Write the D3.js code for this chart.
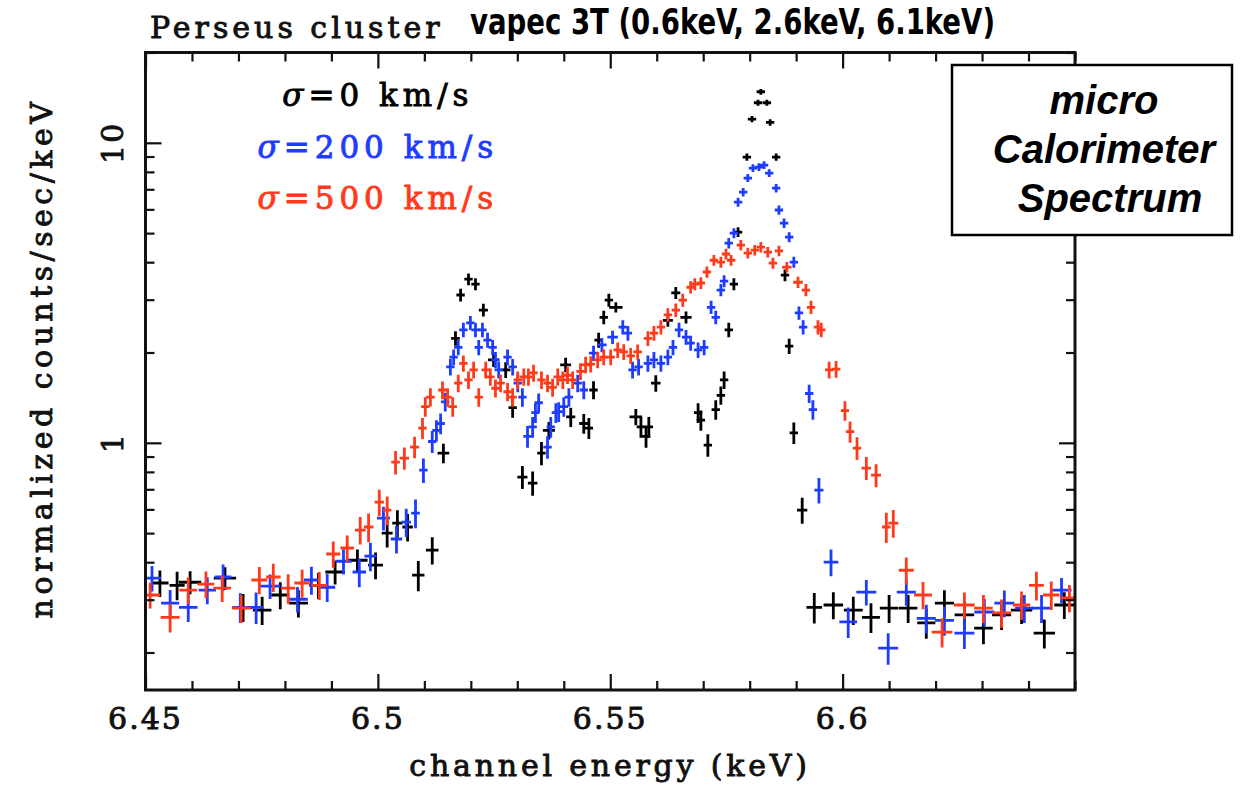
<!DOCTYPE html>
<html>
<head>
<meta charset="utf-8">
<script src="https://cdn.jsdelivr.net/npm/d3@7"></script>
<style>
  body { margin: 0; background: #fff; }
  svg text { font-family: "DejaVu Serif", serif; fill: #111; }
</style>
</head>
<body>
<svg id="chart" width="1258" height="786"></svg>
<script>
// [channel energy (keV), normalized counts/sec/keV]
const sigma0 = [
  [6.4531,0.341],[6.4568,0.335],[6.4596,0.343],[6.4671,0.354],[6.4710,0.283],[6.4751,0.277],
  [6.4790,0.311],[6.4829,0.292],[6.4872,0.335],[6.4908,0.371],[6.4956,0.406],[6.4995,0.391],
  [6.5020,0.500],[6.5042,0.540],[6.5064,0.524],[6.5087,0.362],[6.5117,0.439],[6.5141,0.924],
  [6.5167,2.23],[6.5178,3.11],[6.5195,3.51],[6.5210,3.38],[6.5227,2.77],[6.5249,1.89],
  [6.5275,1.75],[6.5290,1.31],[6.5311,0.769],[6.5333,0.734],[6.5352,0.924],[6.5368,1.10],
  [6.5404,1.82],[6.5415,1.22],[6.5443,1.16],[6.5454,1.12],[6.5464,1.50],[6.5475,2.20],
  [6.5486,2.62],[6.5497,2.99],[6.5512,2.83],[6.5555,1.22],[6.5566,1.13],[6.5577,1.05],
  [6.5583,1.13],[6.5598,1.58],[6.5624,2.56],[6.5641,3.16],[6.5663,2.62],[6.5689,1.26],
  [6.5695,1.19],[6.5710,0.983],[6.5727,1.29],[6.5738,1.44],[6.5745,1.62],[6.5755,2.38],
  [6.5766,3.38],[6.5775,5.04],[6.5794,8.96],[6.5805,12.0],[6.5818,13.6],[6.5824,14.8],
  [6.5837,13.6],[6.5844,11.7],[6.5857,8.96],[6.5876,3.62],[6.5885,2.10],[6.5895,1.08],
  [6.5913,0.597],[6.5939,0.283],[6.5980,0.288],[6.6023,0.277],[6.6061,0.262],[6.6100,0.281],
  [6.6141,0.281],[6.6180,0.251],[6.6219,0.292],[6.6262,0.267],[6.6303,0.241],[6.6342,0.267],
  [6.6385,0.277],[6.6434,0.232],[6.6477,0.288]
];
const sigma200 = [
  [6.4514,0.354],[6.4553,0.292],[6.4592,0.283],[6.4633,0.323],[6.4667,0.357],[6.4704,0.283],
  [6.4738,0.283],[6.4768,0.333],[6.4827,0.301],[6.4857,0.349],[6.4891,0.330],[6.4926,0.403],
  [6.4960,0.371],[6.4984,0.419],[6.5012,0.561],[6.5040,0.478],[6.5061,0.544],[6.5081,0.583],
  [6.5098,0.811],[6.5117,1.01],[6.5126,1.10],[6.5135,1.16],[6.5145,1.37],[6.5156,1.79],
  [6.5163,1.93],[6.5173,2.08],[6.5184,2.38],[6.5199,2.51],[6.5210,2.38],[6.5217,2.08],
  [6.5225,2.38],[6.5236,2.20],[6.5247,2.08],[6.5253,1.89],[6.5260,1.75],[6.5279,1.93],
  [6.5290,1.79],[6.5301,1.58],[6.5311,1.42],[6.5322,1.05],[6.5333,1.13],[6.5339,1.26],
  [6.5346,1.36],[6.5365,0.968],[6.5372,1.13],[6.5383,1.26],[6.5389,1.27],[6.5400,1.32],
  [6.5411,1.42],[6.5430,1.58],[6.5443,1.50],[6.5464,1.99],[6.5482,2.12],[6.5505,2.25],
  [6.5527,2.43],[6.5538,2.32],[6.5548,1.75],[6.5561,1.79],[6.5581,1.84],[6.5594,1.89],
  [6.5609,1.84],[6.5624,1.93],[6.5635,2.08],[6.5648,2.38],[6.5663,2.25],[6.5673,2.15],
  [6.5689,2.04],[6.5702,2.08],[6.5717,2.83],[6.5727,2.62],[6.5738,3.23],[6.5745,3.46],
  [6.5755,4.63],[6.5766,5.00],[6.5775,6.34],[6.5786,6.85],[6.5796,7.63],[6.5807,8.24],
  [6.5820,8.30],[6.5831,8.43],[6.5842,7.93],[6.5857,7.06],[6.5863,5.97],[6.5874,5.40],
  [6.5885,4.85],[6.5895,4.00],[6.5906,2.71],[6.5915,2.43],[6.5928,1.46],[6.5936,1.29],
  [6.5949,0.696],[6.5975,0.400],[6.6012,0.253],[6.6051,0.318],[6.6098,0.207],[6.6137,0.318],
  [6.6180,0.260],[6.6219,0.256],[6.6262,0.232],[6.6305,0.273],[6.6348,0.292],[6.6391,0.281],
  [6.6428,0.281],[6.6471,0.323]
];
const sigma500 = [
  [6.4510,0.311],[6.4553,0.262],[6.4592,0.323],[6.4630,0.338],[6.4665,0.328],[6.4706,0.281],
  [6.4745,0.349],[6.4775,0.357],[6.4807,0.328],[6.4837,0.341],[6.4874,0.335],[6.4904,0.426],
  [6.4934,0.446],[6.4962,0.512],[6.4980,0.524],[6.5003,0.634],[6.5020,0.597],[6.5038,0.862],
  [6.5057,0.889],[6.5079,0.968],[6.5096,1.12],[6.5102,1.32],[6.5113,1.42],[6.5139,1.50],
  [6.5150,1.42],[6.5161,1.32],[6.5173,1.58],[6.5184,1.84],[6.5195,1.62],[6.5206,1.75],
  [6.5217,1.42],[6.5232,1.75],[6.5242,1.66],[6.5253,1.52],[6.5264,1.58],[6.5279,1.48],
  [6.5290,1.42],[6.5301,1.62],[6.5314,1.66],[6.5324,1.66],[6.5335,1.71],[6.5352,1.62],
  [6.5365,1.58],[6.5376,1.53],[6.5387,1.66],[6.5398,1.62],[6.5408,1.68],[6.5419,1.62],
  [6.5436,1.73],[6.5447,1.82],[6.5458,1.83],[6.5473,1.89],[6.5486,1.93],[6.5501,1.93],
  [6.5516,2.04],[6.5529,2.01],[6.5544,1.95],[6.5559,2.01],[6.5581,2.23],[6.5594,2.32],
  [6.5609,2.43],[6.5624,2.67],[6.5641,2.77],[6.5656,2.99],[6.5673,3.30],[6.5682,3.38],
  [6.5695,3.41],[6.5708,3.71],[6.5723,4.06],[6.5738,4.00],[6.5749,4.26],[6.5760,4.06],
  [6.5781,4.56],[6.5796,4.29],[6.5811,4.39],[6.5824,4.49],[6.5839,4.32],[6.5850,3.97],
  [6.5863,4.36],[6.5880,3.85],[6.5904,3.43],[6.5921,3.23],[6.5932,2.83],[6.5947,2.43],
  [6.5954,2.38],[6.5971,1.75],[6.5986,1.76],[6.6005,1.28],[6.6016,1.09],[6.6031,0.960],
  [6.6051,0.824],[6.6072,0.780],[6.6094,0.524],[6.6109,0.540],[6.6137,0.376],[6.6173,0.311],
  [6.6214,0.234],[6.6262,0.288],[6.6303,0.281],[6.6342,0.271],[6.6385,0.288],[6.6417,0.335],
  [6.6449,0.311],[6.6488,0.304]
];

const seriesLabels = ["0 km/s", "200 km/s", "500 km/s"];
const seriesColors = ["#000000", "#1e3cff", "#ff3a1a"];
const xTicks = [6.45, 6.5, 6.55, 6.6];
const yTicks = [1, 10];
const countScale = 0.0036; // poisson: rel. error = countScale / sqrt(flux * binwidth)

var svg = d3.select("#chart");
var plotL = 145.5, plotR = 1075, plotT = 52.5, plotB = 690;

var x = d3.scaleLinear().domain([6.45, 6.65]).range([plotL, plotR]);
var y = d3.scaleLog().domain([0.15, 20]).range([plotB, plotT]);

svg.append("clipPath").attr("id", "plotclip")
  .append("rect")
  .attr("x", plotL).attr("y", plotT)
  .attr("width", plotR - plotL).attr("height", plotB - plotT);

// bin half width from the spacing to the neighbouring channels
function binned(data) {
  return data.map((d, i) => {
    var prev = i > 0 ? d[0] - data[i - 1][0] : null;
    var next = i < data.length - 1 ? data[i + 1][0] - d[0] : null;
    var gap = prev == null ? next : next == null ? prev : (prev + next) / 2;
    var hw = Math.max(0.0009, Math.min(gap / 2, 0.0024));
    var rel = countScale / Math.sqrt(d[1] * 2 * hw);
    return {e: d[0], f: d[1], hw: hw, lo: d[1] * (1 - rel), hi: d[1] * (1 + rel)};
  });
}

var plot = svg.append("g").attr("clip-path", "url(#plotclip)");

[sigma0, sigma200, sigma500].forEach((data, k) => {
  plot.append("g")
    .selectAll("path")
    .data(binned(data))
    .enter()
    .append("path")
    .attr("d", d => `M${x(d.e - d.hw)},${y(d.f)}H${x(d.e + d.hw)}M${x(d.e)},${y(d.lo)}V${y(d.hi)}`)
    .attr("stroke", seriesColors[k])
    .attr("stroke-width", 2.8)
    .attr("fill", "none");
});

// ticks, all pointing inward
var xMinor = d3.range(6.46, 6.65, 0.01).filter(v => !xTicks.some(t => Math.abs(t - v) < 1e-6));
var yMinor = y.ticks().filter(v => !yTicks.includes(v));

function tickAxis(axis, values, size, transform) {
  svg.append("g")
    .attr("transform", transform)
    .call(axis.tickValues(values).tickSize(-size).tickFormat(""))
    .call(g => g.select(".domain").remove())
    .call(g => g.selectAll("line").attr("stroke", "#111").attr("stroke-width", 2.2));
}
tickAxis(d3.axisBottom(x), xTicks, 16, `translate(0,${plotB})`);
tickAxis(d3.axisBottom(x), xMinor, 9, `translate(0,${plotB})`);
tickAxis(d3.axisTop(x), xTicks, 16, `translate(0,${plotT})`);
tickAxis(d3.axisTop(x), xMinor, 9, `translate(0,${plotT})`);
tickAxis(d3.axisLeft(y), yTicks, 16, `translate(${plotL},0)`);
tickAxis(d3.axisLeft(y), yMinor, 9, `translate(${plotL},0)`);
tickAxis(d3.axisRight(y), yTicks, 16, `translate(${plotR},0)`);
tickAxis(d3.axisRight(y), yMinor, 9, `translate(${plotR},0)`);

svg.append("rect")
  .attr("x", plotL).attr("y", plotT)
  .attr("width", plotR - plotL).attr("height", plotB - plotT)
  .attr("fill", "none").attr("stroke", "#111").attr("stroke-width", 3);

// serif labels get a thin outline to match the heavier plot font
function serif(sel, size, spacing) {
  return sel.attr("font-size", size).attr("letter-spacing", spacing)
    .attr("stroke", "#111").attr("stroke-width", 0.9);
}

// tick labels
serif(svg.selectAll(".xlab")
  .data(xTicks)
  .enter()
  .append("text")
  .attr("x", d => x(d)).attr("y", 729)
  .attr("text-anchor", "middle")
  .text(d => d), 30, 2);

serif(svg.selectAll(".ylab")
  .data(yTicks)
  .enter()
  .append("text")
  .attr("transform", d => `translate(123,${y(d)}) rotate(-90)`)
  .attr("text-anchor", "middle")
  .text(d => d), 30, 2);

// axis titles
serif(svg.append("text")
  .attr("x", 610).attr("y", 776)
  .attr("text-anchor", "middle")
  .text("channel energy (keV)"), 30, 3.8);

serif(svg.append("text")
  .attr("transform", "translate(52,358) rotate(-90)")
  .attr("text-anchor", "middle")
  .text("normalized counts/sec/keV"), 30, 4.5);

serif(svg.append("text")
  .attr("x", 150).attr("y", 38)
  .text("Perseus cluster"), 30, 4);

svg.append("text")
  .attr("x", 470).attr("y", 34)
  .attr("font-weight", "bold")
  .attr("font-size", 36)
  .attr("textLength", 525)
  .attr("lengthAdjust", "spacingAndGlyphs")
  .style("font-family", "'DejaVu Sans', sans-serif")
  .style("font-stretch", "condensed")
  .style("fill", "#000")
  .text("vapec 3T (0.6keV, 2.6keV, 6.1keV)");

// legend
var legend = svg.selectAll(".leg")
  .data(seriesLabels)
  .enter()
  .append("text")
  .attr("x", x(6.5)).attr("y", (d, i) => 106 + i * 51.5)
  .attr("text-anchor", "middle")
  .attr("font-size", 31).attr("letter-spacing", 5)
  .attr("stroke", (d, i) => seriesColors[i]).attr("stroke-width", 0.9)
  .style("fill", (d, i) => seriesColors[i]);
legend.append("tspan").attr("font-style", "italic").text("σ");
legend.append("tspan").text(d => "=" + d);

// annotation box
svg.append("rect")
  .attr("x", 952).attr("y", 65)
  .attr("width", 280).attr("height", 170)
  .attr("fill", "#fff").attr("stroke", "#000").attr("stroke-width", 2.5);

svg.selectAll(".boxtext")
  .data(["micro", "Calorimeter", "Spectrum"])
  .enter()
  .append("text")
  .attr("x", (d, i) => i == 2 ? 1110 : 1104)
  .attr("y", (d, i) => 114 + i * 49)
  .attr("text-anchor", "middle")
  .attr("font-size", 40)
  .attr("font-weight", "bold")
  .attr("font-style", "italic")
  .style("font-family", "'Liberation Sans', Arial, sans-serif")
  .style("fill", "#000")
  .text(d => d);
</script>
</body>
</html>
